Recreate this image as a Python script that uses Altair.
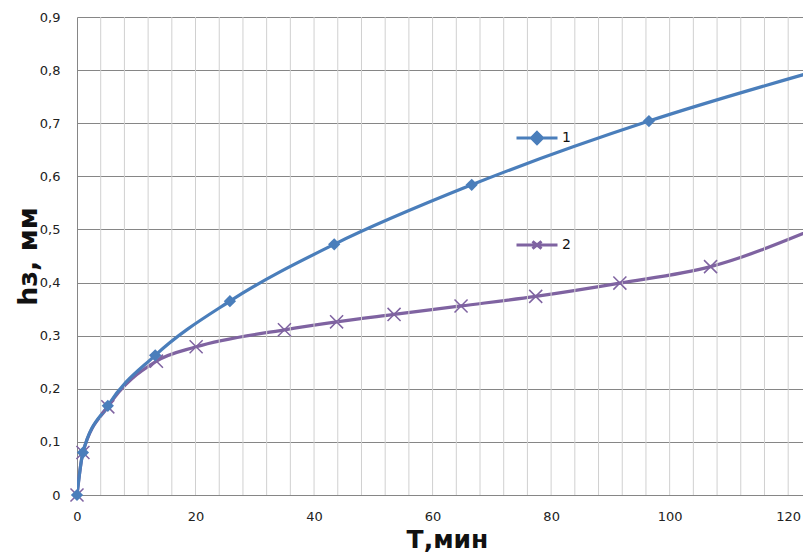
import altair as alt
import pandas as pd

# Series 1 (blue, diamonds)
t1 = [0, 1.0, 5.2, 13.2, 25.8, 43.4, 66.6, 96.5, 124]
h1 = [0, 0.080, 0.168, 0.263, 0.365, 0.472, 0.584, 0.704, 0.796]
m1 = [True, True, True, True, True, True, True, True, False]

# Series 2 (purple, x markers)
t2 = [0, 1.0, 5.2, 13.4, 20.1, 35.0, 43.8, 53.5, 64.8, 77.4, 91.6, 106.9, 124]
h2 = [0, 0.080, 0.166, 0.252, 0.279, 0.311, 0.326, 0.340, 0.356, 0.374, 0.399, 0.430, 0.499]
m2 = [True] * 12 + [False]

series_names = ["1", "2"]
x_labels = [0, 20, 40, 60, 80, 100, 120]
x_grid = list(range(4, 121, 4))
y_ticks = [0, 0.1, 0.2, 0.3, 0.4, 0.5, 0.6, 0.7, 0.8, 0.9]

BLUE = "#4A7EBB"
PURPLE = "#7F63A1"

df1 = pd.DataFrame({"t": t1, "h": h1, "m": m1, "s": "1"})
df2 = pd.DataFrame({"t": t2, "h": h2, "m": m2, "s": "2"})
df = pd.concat([df1, df2], ignore_index=True)
dgrid = pd.DataFrame({"g": x_grid})

FONT = "DejaVu Sans"
xscale = alt.Scale(domain=[0, 122.5], nice=False)
yscale = alt.Scale(domain=[0, 0.9], nice=False)

x_main = alt.X(
    "t:Q",
    scale=xscale,
    axis=alt.Axis(
        orient="bottom",
        values=x_labels,
        labelOverlap=False,
        labelFlush=False,
        ticks=False,
        labelPadding=15,
        labelFontSize=13,
        labelFont=FONT,
        labelColor="#222222",
        grid=False,
        domainColor="#868686",
        title="Т,мин",
        titleFont=FONT,
        titleFontSize=25,
        titleFontWeight="bold",
        titleColor="#111111",
        titleBaseline="alphabetic",
        titleAlign="center",
        titleX=370,
        titleY=52,
    ),
)
y_enc = alt.Y(
    "h:Q",
    scale=yscale,
    axis=alt.Axis(
        values=y_ticks,
        labelExpr="datum.value == 0 ? '0' : replace(format(datum.value, '.1f'), '.', ',')",
        labelFlush=False,
        labelOverlap=False,
        ticks=False,
        labelPadding=17,
        labelFontSize=13,
        labelFont=FONT,
        labelColor="#222222",
        grid=True,
        gridColor="#868686",
        gridWidth=1,
        domainColor="#868686",
        title="hз, мм",
        titleFont=FONT,
        titleFontSize=27,
        titleFontWeight="bold",
        titleColor="#111111",
        titleBaseline="alphabetic",
        titleX=-41,
    ),
)

vgrid = alt.Chart(dgrid).mark_rule(color="#d0d0d0", strokeWidth=1).encode(
    x=alt.X("g:Q"),
    y=alt.datum(0),
    y2=alt.datum(0.9),
)

base1 = alt.Chart(df1)
base2 = alt.Chart(df2)

line2 = base2.mark_line(color=PURPLE, strokeWidth=3.2, interpolate="monotone", clip=True).encode(x=x_main, y=y_enc)
line1 = base1.mark_line(color=BLUE, strokeWidth=3.2, interpolate="monotone", clip=True).encode(x="t:Q", y="h:Q")

pts1 = base1.transform_filter("datum.m").mark_point(
    shape="diamond", filled=True, color=BLUE, size=150, opacity=1
).encode(x="t:Q", y="h:Q")
pts2 = base2.transform_filter("datum.m").mark_point(
    shape="M-1,-1L1,1M-1,1L1,-1", filled=False, color=PURPLE, size=170, strokeWidth=1.5, opacity=1
).encode(x="t:Q", y="h:Q")

legend_paths = [
    "M-1,0L1,0M0,-0.27L0.27,0L0,0.27L-0.27,0Z",
    "M-1,0L1,0M-0.22,-0.18L0.22,0.18M-0.22,0.18L0.22,-0.18",
]

leg = alt.Legend(
    orient="none", legendX=438, legendY=99, title=None,
    symbolSize=1681, symbolStrokeWidth=3, symbolOpacity=1,
    labelFontSize=14, labelFont=FONT, labelColor="#111111",
    labelOffset=3, rowPadding=73, padding=0,
)
pal = alt.Scale(domain=series_names, range=[BLUE, PURPLE])

legend_layer = alt.Chart(df).mark_point(opacity=0, clip=True).encode(
    x="t:Q",
    y="h:Q",
    fill=alt.Fill("s:N", scale=pal, legend=leg),
    stroke=alt.Stroke("s:N", scale=pal, legend=leg),
    shape=alt.Shape("s:N", scale=alt.Scale(domain=series_names, range=legend_paths), legend=leg),
)

chart = alt.layer(line2, vgrid, line1, pts2, pts1, legend_layer).properties(
    width=726,
    height=478,
    padding={"left": 69, "top": 9, "right": 0, "bottom": 57},
    autosize=alt.AutoSizeParams(type="none"),
    background="white",
).configure_view(stroke=None)

chart.save("out.html", embed_options={"renderer": "svg", "actions": False})
